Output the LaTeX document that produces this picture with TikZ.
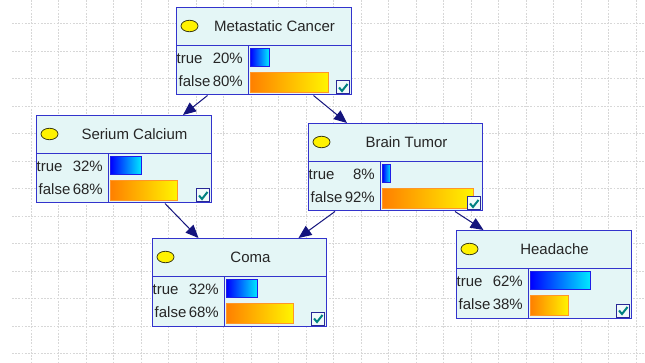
\documentclass[tikz,border=0pt]{standalone}
\usepackage{fontspec}
\setmainfont{Liberation Sans}
\usetikzlibrary{arrows.meta,calc,shapes.geometric}
\definecolor{nodebg}{RGB}{228,246,246}
\definecolor{nodeborder}{RGB}{51,51,204}
\definecolor{gridgray}{RGB}{215,215,215}
\definecolor{arrowblue}{RGB}{20,20,125}
\definecolor{checkteal}{RGB}{0,128,128}
\definecolor{boxborder}{RGB}{40,40,150}
\tikzset{
  nodebox/.style={draw=nodeborder, fill=nodebg, line width=1pt, rectangle, inner sep=0pt, minimum height=87.5pt},
  border/.style={draw=nodeborder, line width=1pt},
  bnellipse/.style={ellipse, draw={rgb,255:red,60;green,60;blue,20}, fill=yellow, line width=0.8pt, minimum width=17pt, minimum height=11.5pt, inner sep=0pt},
  titletext/.style={font=\fontsize{15}{17}\selectfont, inner sep=0pt, text=black!85},
  rowtext/.style={font=\fontsize{15}{17}\selectfont, inner sep=0pt, text=black!85},
  truebar/.style={draw={rgb,255:red,30;green,30;blue,230}, line width=0.8pt, left color={rgb,255:red,0;green,0;blue,255}, right color={rgb,255:red,0;green,235;blue,255}},
  falsebar/.style={draw={rgb,255:red,255;green,150;blue,40}, line width=0.8pt, left color={rgb,255:red,255;green,128;blue,0}, right color={rgb,255:red,255;green,245;blue,0}},
  checkbox/.style={draw=boxborder, fill={rgb,255:red,240;green,250;blue,250}, line width=1pt, minimum width=13pt, minimum height=13pt, inner sep=0pt},
  checkmark/.style={draw=checkteal, line width=2pt},
  conn/.style={draw=arrowblue, line width=1pt, -{Triangle[length=13pt,width=11pt]}},
  gridline/.style={draw=gridgray, line width=0.7pt, dash pattern=on 1.8pt off 1.4pt}
}
\newcommand{\bnnode}[9]{%
\begin{scope}[shift={(#2,#3)}]
  \node[nodebox, minimum width=#4pt, anchor=north west] (#1) at (0,0) {};
  \draw[border] (0,39) -- (#4,39);
  \draw[border] (72,39) -- (72,87.5);
  \node[bnellipse] (#1-e) at (13.5,19) {};
  \node[titletext, anchor=base] (#1-t) at (98.5,24.5) {#5};
  \node[rowtext, anchor=base west] (#1-tl) at (0.5,56.5) {true};
  \node[rowtext, anchor=base east] (#1-tp) at (67,56.5) {#6\%};
  \node[rowtext, anchor=base west] (#1-fl) at (2.5,79.5) {false};
  \node[rowtext, anchor=base east] (#1-fp) at (67,79.5) {#7\%};
  \draw[truebar] (74.5,41.5) rectangle ++(#8,18);
  \draw[falsebar] (74.5,65.5) rectangle ++(#9,19.5);
  \node[checkbox, anchor=south east] (#1-c) at (#4-1,87.5) {};
  \draw[checkmark] ($(#1-c.center)+(-4,0)$) -- ($(#1-c.center)+(-1,3.5)$) -- ($(#1-c.center)+(4.5,-3.5)$);
\end{scope}}
\begin{document}
\begin{tikzpicture}[x=1pt,y=-1pt]
\useasboundingbox (0,0) rectangle (645,363);
\fill[white] (0,0) rectangle (645,363);
% grid
\foreach \k in {0,...,22} { \draw[gridline] (31+27.5*\k,0) -- (31+27.5*\k,363); }
\foreach \k in {0,...,12} { \draw[gridline] (12,23.5+27.5*\k) -- (645,23.5+27.5*\k); }
% nodes
\bnnode{mc}{176}{7}{175}{Metastatic Cancer}{20}{80}{18.5}{77.5}
\bnnode{sc}{36}{115}{175}{Serium Calcium}{32}{68}{31}{66.5}
\bnnode{bt}{308}{123}{174}{Brain Tumor}{8}{92}{8}{91}
\bnnode{ha}{456}{230}{175}{Headache}{62}{38}{60}{38}
\bnnode{co}{152}{238}{174}{Coma}{32}{68}{31}{66.5}
% connectors
\draw[conn] ($(mc.south west)+(31.5,0)$) -- ($(sc.north west)+(147,0)$);
\draw[conn] ($(mc.south west)+(137.5,0)$) -- ($(bt.north west)+(39,0)$);
\draw[conn] ($(sc.south west)+(129,0)$) -- ($(co.north west)+(46.5,0)$);
\draw[conn] ($(bt.south west)+(27,0)$) -- ($(co.north west)+(146.5,0)$);
\draw[conn] ($(bt.south west)+(147,0)$) -- ($(ha.north west)+(27.5,0)$);
\end{tikzpicture}
\end{document}
